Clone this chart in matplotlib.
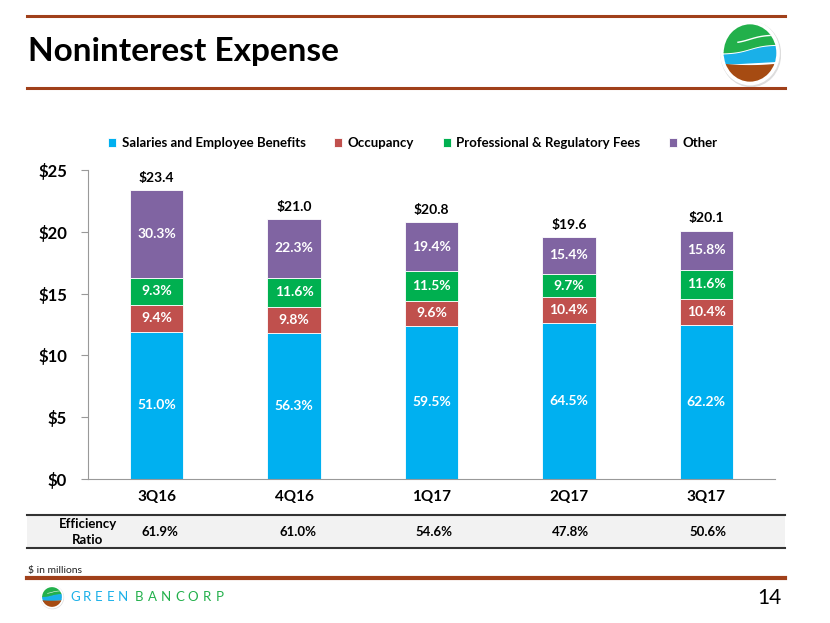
import matplotlib
matplotlib.use("Agg")
import matplotlib.pyplot as plt
import numpy as np
from matplotlib.patches import Ellipse, Rectangle, Polygon

plt.rcParams['font.family'] = ['Lato', 'DejaVu Sans']

# data ($ in millions)
quarters = ['3Q16', '4Q16', '1Q17', '2Q17', '3Q17']
salaries = [11.9, 11.8, 12.4, 12.6, 12.5]
occupancy = [2.2, 2.1, 2.0, 2.1, 2.1]
prof_fees = [2.2, 2.4, 2.4, 1.9, 2.3]
other = [7.1, 4.7, 4.0, 3.0, 3.2]
totals = ['$23.4', '$21.0', '$20.8', '$19.6', '$20.1']
sal_pct = ['51.0%', '56.3%', '59.5%', '64.5%', '62.2%']
occ_pct = ['9.4%', '9.8%', '9.6%', '10.4%', '10.4%']
fee_pct = ['9.3%', '11.6%', '11.5%', '9.7%', '11.6%']
oth_pct = ['30.3%', '22.3%', '19.4%', '15.4%', '15.8%']
efficiency = ['61.9%', '61.0%', '54.6%', '47.8%', '50.6%']

series = [
    ('Salaries and Employee Benefits', salaries, sal_pct, '#00B0F0'),
    ('Occupancy', occupancy, occ_pct, '#C0504D'),
    ('Professional & Regulatory Fees', prof_fees, fee_pct, '#00B050'),
    ('Other', other, oth_pct, '#8064A2'),
]

W, H = 830, 623
fig = plt.figure(figsize=(8.3, 6.23), dpi=100)

def fx(px):
    return px / W

def fy(py):
    return 1 - py / H

# header / footer rules
brown = '#A0401A'
for y in (16, 88, 578):
    fig.add_artist(plt.Line2D([fx(27), fx(785)], [fy(y), fy(y)], color=brown, lw=3 if y == 578 else 2.2))

fig.text(fx(28), fy(52), 'Noninterest Expense', fontsize=24, fontweight='bold',
         ha='left', va='center', color='black')

# main chart
ax = fig.add_axes([fx(88), fy(479), fx(775) - fx(88), fy(170) - fy(479)])
x = np.arange(len(quarters))
bottom = np.zeros(len(quarters))
for name, vals, pcts, col in series:
    vals = np.array(vals)
    ax.bar(x, vals, 0.39, bottom=bottom, color=col, label=name, edgecolor='white', linewidth=0.6)
    for i in range(len(x)):
        ax.text(x[i], bottom[i] + vals[i] / 2, pcts[i], ha='center', va='center',
                color='white', fontsize=10, fontweight='bold')
    bottom += vals
for i in range(len(x)):
    ax.text(x[i], bottom[i] + 0.5, totals[i], ha='center', va='bottom',
            fontsize=10, fontweight='bold')

ax.set_xlim(-0.5, 4.5)
ax.set_ylim(0, 25)
ax.set_yticks(range(0, 26, 5))
ax.set_yticklabels(['$' + str(v) for v in range(0, 26, 5)], fontsize=12, fontweight='bold')
ax.set_xticks(x)
ax.set_xticklabels(quarters, fontsize=11, fontweight='bold')
ax.tick_params(axis='y', length=5, color='#999999', pad=10)
ax.tick_params(axis='x', length=0, pad=8)
for s in ('top', 'right'):
    ax.spines[s].set_visible(False)
for s in ('left', 'bottom'):
    ax.spines[s].set_color('#999999')

fig.legend(loc='center', bbox_to_anchor=(fx(413), fy(143)), ncol=4, frameon=False,
           prop={'size': 9.5, 'weight': 'bold'}, handlelength=0.6, handleheight=0.6,
           handletextpad=0.4, columnspacing=2.2)

# efficiency ratio table
fig.add_artist(Rectangle((fx(27), fy(548)), fx(785) - fx(27), fy(515) - fy(548),
                         facecolor='#F2F2F2', edgecolor='none'))
for y in (515, 548):
    fig.add_artist(plt.Line2D([fx(27), fx(785)], [fy(y), fy(y)], color='#333333', lw=1.5))
fig.text(fx(88), fy(532), 'Efficiency\nRatio', ha='center', va='center',
         fontsize=9.5, fontweight='bold', linespacing=1.3)
eff_x = [160, 298, 434, 570, 708]
for px, v in zip(eff_x, efficiency):
    fig.text(fx(px), fy(532), v, ha='center', va='center', fontsize=9.5, fontweight='bold')

fig.text(fx(28), fy(570), '$ in millions', fontsize=7.5, ha='left', va='center', color='#222222')
fig.text(fx(782), fy(598), '14', fontsize=15, ha='right', va='center')


def draw_logo(cx, cy, w, h):
    # unit circle stretched to w x h pixels
    lax = fig.add_axes([fx(cx - w / 2 - 3), fy(cy + h / 2 + 3), fx(w + 6), (h + 6) / H])
    lax.set_xlim(-1.0 - 6 / w, 1.0 + 6 / w)
    lax.set_ylim(-1.0 - 6 / h, 1.0 + 6 / h)
    lax.axis('off')
    lax.add_patch(Ellipse((0.03, -0.04), 2.12, 2.12, color='#DDDDDD'))
    lax.add_patch(Ellipse((0, 0), 2.08, 2.08, color='white'))
    clip = Ellipse((0, 0), 1.88, 1.88, transform=lax.transData)
    t = np.linspace(-1.1, 1.1, 60)
    g_edge = 0.15 + 0.15 * np.tanh(1.8 * t)
    b_edge = -0.32 + 0.05 * t
    green = Polygon(np.vstack([np.c_[t, g_edge], [[1.1, 1.1], [-1.1, 1.1]]]), color='#22B04B')
    blue = Polygon(np.vstack([np.c_[t, g_edge - 0.08], np.c_[t[::-1], b_edge[::-1]]]), color='#1AB0E8')
    brown_top = -0.42 + 0.05 * t ** 2
    brown_p = Polygon(np.vstack([np.c_[t, brown_top], [[1.1, -1.1], [-1.1, -1.1]]]), color='#A64B12')
    for p in (green, blue, brown_p):
        lax.add_patch(p)
        p.set_clip_path(clip)
    tv = t[18:52]
    ln, = lax.plot(tv, 0.45 + 0.14 * np.tanh(2.0 * tv), color='white', lw=1.0 * w / 56)
    ln.set_clip_path(clip)


draw_logo(750, 53, 56, 61)
draw_logo(52, 597, 21, 21)
for i, ch in enumerate('GREEN'):
    fig.text(fx(75 + 12 * i), fy(597), ch, fontsize=9.5, color='#1AB0E8', ha='center', va='center')
for i, ch in enumerate('BANCORP'):
    fig.text(fx(139 + 13.5 * i), fy(597), ch, fontsize=9.5, color='#22B04B', ha='center', va='center')

fig.savefig('out.png', dpi=100)
